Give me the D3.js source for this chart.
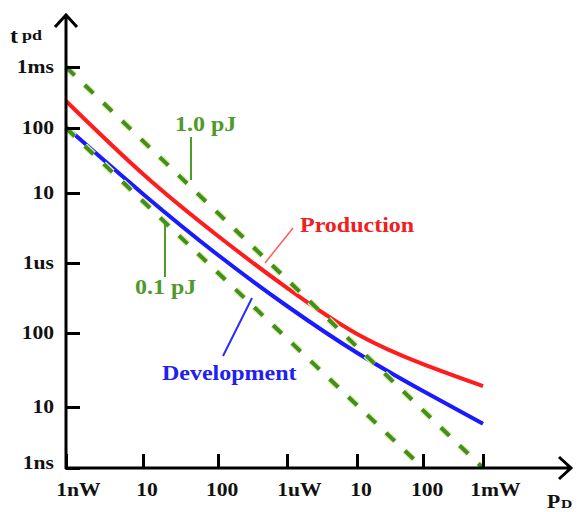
<!DOCTYPE html>
<html>
<head>
<meta charset="utf-8">
<script src="https://cdn.jsdelivr.net/npm/d3@7"></script>
<style>
  body { margin: 0; background: #fff; }
</style>
</head>
<body>
<script>
const width = 577
const height = 512

// power axis (W) and delay axis (s), one tick per decade
const powerTicks = [1e-9, 1e-8, 1e-7, 1e-6, 1e-5, 1e-4, 1e-3];
const powerLabels = ["1nW", "10", "100", "1uW", "10", "100", "1mW"];
const delayTicks = [1e-9, 1e-8, 1e-7, 1e-6, 1e-5, 1e-4, 1e-3];
const delayLabels = ["1ns", "10", "100", "1us", "10", "100", "1ms"];

// curves, delay in seconds at each decade of power
const power = [1e-9, 1e-8, 1e-7, 1e-6, 1e-5, 1e-4, 1e-3];
const production = [2.77e-4, 1.96e-5, 2.43e-6, 4.4e-7, 9.7e-8, 3.8e-8, 1.92e-8];
const development = [1.04e-4, 9.7e-6, 1.3e-6, 2.43e-7, 5.4e-8, 1.64e-8, 5.3e-9];

// constant energy lines (end points)
const pj10Power = [1e-9, 1e-3];
const pj10Delay = [1e-3, 1e-9];
const pj01Power = [1e-9, 1e-4];
const pj01Delay = [1e-4, 1e-9];

const serif = "'Liberation Serif', 'Times New Roman', serif";
const stretch = "scale(1.2,1)";  // the picture's lettering is wide

// the drawn ticks are not evenly spaced, so the log scales are piecewise
const x = d3.scaleLog()
    .domain(powerTicks)
    .range([66, 143, 218, 287, 357, 423, 483])

const y = d3.scaleLog()
    .domain(delayTicks)
    .range([468, 407, 333, 263, 193, 128, 67])

const svg = d3.select("body").append("svg")
    .attr("width", width)
    .attr("height", height)
    .attr("viewBox", [0, 0, width, height]);

const tickFont = g => g
    .attr("font-family", serif)
    .attr("font-weight", "bold")
    .attr("font-size", 18)

const xAxis = g => g
    .attr("transform", `translate(0,468)`)
    .call(d3.axisBottom(x).tickValues(powerTicks).tickFormat((d, i) => powerLabels[i])
        .tickSizeInner(-14).tickSizeOuter(0).tickPadding(15))
    .call(tickFont)
    .call(g => g.select(".domain").remove())
    .call(g => g.selectAll(".tick line").attr("stroke", "#000").attr("stroke-width", 3))
    .call(g => g.selectAll(".tick text")
        .attr("fill", "#111")
        .attr("transform", stretch)
        .attr("dx", (d, i) => powerLabels[i].includes("W") ? 10 : 3))

const yAxis = g => g
    .attr("transform", `translate(66,0)`)
    .call(d3.axisLeft(y).tickValues(delayTicks).tickFormat((d, i) => delayLabels[i])
        .tickSizeInner(-14).tickSizeOuter(0).tickPadding(10))
    .call(tickFont)
    .call(g => g.select(".domain").remove())
    .call(g => g.selectAll(".tick line").attr("stroke", "#000").attr("stroke-width", 3))
    .call(g => g.selectAll(".tick text")
        .attr("fill", "#111")
        .attr("transform", stretch)
        .attr("dy", (d, i) => i === 0 ? "0.05em" : "0.32em"))

function label(x0, y0, txt, size, color) {
    return svg.append("text")
        .attr("transform", `translate(${x0},${y0}) ${stretch}`)
        .attr("font-family", serif)
        .attr("font-weight", "bold")
        .attr("font-size", size)
        .attr("fill", color)
        .text(txt);
}

const curve = d3.line()
    .x(d => x(d[0]))
    .y(d => y(d[1]))
    .curve(d3.curveNatural);

const straight = d3.line()
    .x(d => x(d[0]))
    .y(d => y(d[1]));

// red and blue curves
svg.append("path")
    .attr("d", curve(d3.zip(power, production)))
    .attr("fill", "none")
    .attr("stroke", "#ff1c1c")
    .attr("stroke-width", 4);

svg.append("path")
    .attr("d", curve(d3.zip(power, development)))
    .attr("fill", "none")
    .attr("stroke", "#1a1aff")
    .attr("stroke-width", 4);

// dashed energy lines, halo first then the green dash
for (const pts of [d3.zip(pj10Power, pj10Delay), d3.zip(pj01Power, pj01Delay)]) {
    svg.append("path")
        .attr("d", straight(pts))
        .attr("fill", "none")
        .attr("stroke", "#e4e9a8")
        .attr("stroke-width", 6.5)
        .attr("stroke-dasharray", "12,14");
    svg.append("path")
        .attr("d", straight(pts))
        .attr("fill", "none")
        .attr("stroke", "#3f901e")
        .attr("stroke-width", 4)
        .attr("stroke-dasharray", "12,14");
}

// axes
svg.append("g").call(xAxis);
svg.append("g").call(yAxis);

svg.append("path")
    .attr("d", "M66,469V16M55,27L66,15L77,27")
    .attr("fill", "none")
    .attr("stroke", "#000")
    .attr("stroke-width", 3);
svg.append("path")
    .attr("d", "M65,468H570M559,457L571,468L559,479")
    .attr("fill", "none")
    .attr("stroke", "#000")
    .attr("stroke-width", 3);

// axis titles
label(10, 43, "t", 20, "#111");
label(22, 40, "pd", 15, "#111");
label(547, 508, "P", 18, "#111");
label(561, 508, "D", 13, "#111");

// leaders and annotations
svg.append("line").attr("x1", 191).attr("y1", 137).attr("x2", 191).attr("y2", 180)
    .attr("stroke", "#4e9a2a").attr("stroke-width", 2);
svg.append("line").attr("x1", 165).attr("y1", 223).attr("x2", 165).attr("y2", 277)
    .attr("stroke", "#4e9a2a").attr("stroke-width", 2);
svg.append("line").attr("x1", 293).attr("y1", 228).attr("x2", 265).attr("y2", 263)
    .attr("stroke", "#ff5a5a").attr("stroke-width", 1.5);
svg.append("line").attr("x1", 252).attr("y1", 298).attr("x2", 223).attr("y2", 356)
    .attr("stroke", "#2a2aff").attr("stroke-width", 2);

label(175, 131, "1.0 pJ", 20, "#4e9a2a");
label(135, 294, "0.1 pJ", 20, "#4e9a2a");
label(300, 232, "Production", 20, "#f02020");
label(162, 380, "Development", 20, "#2020f0");
</script>
</body>
</html>
